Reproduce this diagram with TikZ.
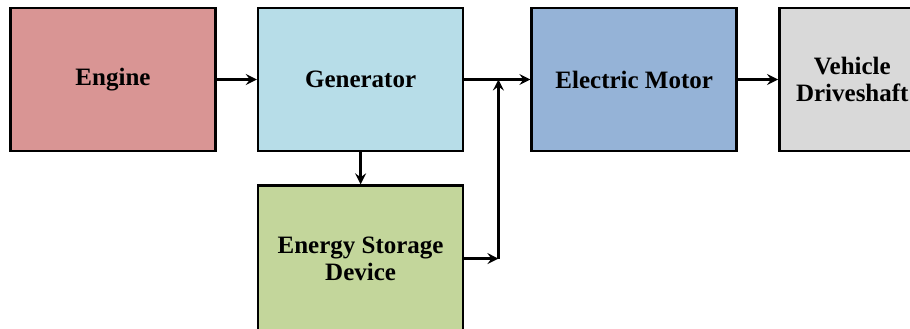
\documentclass[tikz,border=0pt]{standalone}
\usepackage{fontspec}
\setmainfont{Liberation Serif}
\usepackage{xcolor}
\usetikzlibrary{arrows.meta,positioning,shadows}
\definecolor{HybridRose}{HTML}{D99594}
\definecolor{HybridSky}{HTML}{B7DDE8}
\definecolor{HybridOlive}{HTML}{C3D69B}
\definecolor{HybridSteel}{HTML}{95B3D7}
\definecolor{HybridGrey}{HTML}{D9D9D9}
\tikzset{
  hvblock/.style={
    draw=black,
    line width=2.6pt,
    minimum width=205pt,
    minimum height=143pt,
    align=center,
    inner sep=4pt,
    font=\bfseries\fontsize{25}{27}\selectfont,
    drop shadow={shadow xshift=1.3pt, shadow yshift=-1.3pt, fill=black, opacity=1}
  },
  hvflow/.style={-{Stealth[length=11pt,width=11pt,inset=4pt]}, line width=2.4pt, draw=black}
}

\begin{document}
\begin{tikzpicture}[x=1pt, y=1pt]
  \useasboundingbox (0,0) rectangle (910,-329);
  \node[hvblock, fill=HybridRose] (engine) at (113,-79.5) {Engine};
  \node[hvblock, fill=HybridSky, right=40pt of engine] (gen) {Generator};
  \node[hvblock, fill=HybridSteel, right=66pt of gen] (motor) {Electric Motor};
  \node[hvblock, fill=HybridGrey, minimum width=146pt, right=40pt of motor] (shaft) {Vehicle\\Driveshaft};
  \node[hvblock, fill=HybridOlive, minimum height=146pt, below=32pt of gen] (store) {Energy Storage\\Device};
  \coordinate[right=34pt of gen.east] (join);
  \draw[hvflow] (engine) -- (gen);
  \draw[hvflow] (gen) -- (motor);
  \draw[hvflow] (motor) -- (shaft);
  \draw[hvflow] (gen) -- (store);
  \draw[hvflow] (store.east) -- (store.east -| join);
  \draw[hvflow] (store.east -| join) -- (join);
\end{tikzpicture}
\end{document}
